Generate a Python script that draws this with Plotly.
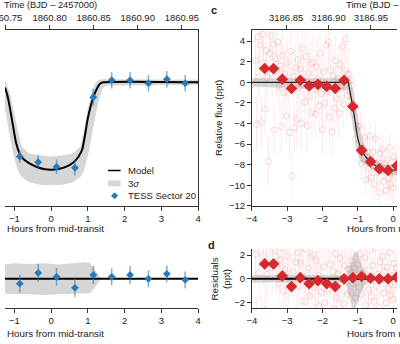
import plotly.graph_objects as go

W, H = 400, 344
def px(x): return x / W
def py(y): return 1 - y / H

FONT = "Liberation Sans, Arial, Helvetica, sans-serif"
TXT = "#222222"

# ---------------- Left panel (TESS Sector 20) ----------------
TESS_H = [-0.85, -0.35, 0.15, 0.65, 1.15, 1.65, 2.15, 2.65, 3.15, 3.65]
TESS_F = [-7.2, -7.75, -8.2, -8.3, -1.45, 0.2, 0.2, -0.1, 0.3, -0.1]
TESS_E = [0.6, 0.7, 0.7, 0.75, 0.8, 0.8, 0.8, 0.8, 0.8, 0.8]
TESS_R = [-0.4, 0.5, 0.17, -0.75, 0.33, 0.17, 0.33, 0.0, 0.42, -0.08]
TESS_RE = [0.75, 0.75, 0.75, 0.75, 0.75, 0.7, 0.75, 0.7, 0.7, 0.7]

MODEL_L_H = [-1.253, -1.2, -1.15, -1.07, -0.95, -0.87, -0.8, -0.6, -0.4, -0.2, 0.0,
             0.2, 0.4, 0.6, 0.75, 0.85, 0.93, 1.0, 1.08, 1.15, 1.25, 1.33, 1.42, 4.0]
MODEL_L_F = [-0.5, -1.1, -1.9, -3.5, -5.9, -6.8, -7.25, -7.85, -8.2, -8.42, -8.48,
             -8.42, -8.2, -7.8, -7.2, -6.5, -5.0, -3.5, -2.3, -1.45, -0.6, -0.15, 0.0, 0.0]

BAND_L_H = [-1.253, -1.2, -1.1, -1.0, -0.9, -0.8, -0.6, -0.3, 0.0, 0.3, 0.6, 0.8,
            0.9, 1.0, 1.1, 1.2, 1.3, 1.4, 1.5, 1.7, 4.0]
BAND_L_UP = [0.3, -0.2, -1.3, -3.0, -4.8, -6.2, -6.9, -7.1, -7.2, -7.1, -6.9, -6.2,
             -4.6, -2.6, -1.0, -0.1, 0.25, 0.3, 0.3, 0.25, 0.25]
BAND_L_LO = [-2.6, -3.8, -5.6, -7.4, -8.6, -9.2, -9.7, -9.95, -10.0, -9.95, -9.7, -9.2,
             -8.5, -7.2, -5.4, -3.4, -1.7, -0.6, -0.3, -0.25, -0.25]

RBAND_L_H = [-1.253, -1.0, -0.6, -0.2, 0.2, 0.6, 0.9, 1.05, 1.15, 1.23, 1.3, 1.36]
RBAND_L_UP = [1.2, 1.3, 1.25, 1.3, 1.2, 1.3, 1.4, 1.35, 1.0, 0.6, 0.25, 0.0]
RBAND_L_LO = [-1.25, -1.3, -1.3, -1.35, -1.3, -1.25, -1.2, -1.2, -0.9, -0.55, -0.25, 0.0]

# ---------------- Right panel (c / d) ----------------
PRE_H = [-3.90, -3.87, -3.83, -3.80, -3.77, -3.73, -3.70, -3.67, -3.63, -3.60,
         -3.57, -3.53, -3.50, -3.47, -3.43, -3.40, -3.37, -3.33, -3.30, -3.27,
         -3.23, -3.20, -3.17, -3.13, -3.10, -3.07, -3.03, -3.00, -2.97, -2.93,
         -2.90, -2.87, -2.83, -2.80, -2.77, -2.73, -2.70, -2.67, -2.63, -2.60,
         -2.57, -2.53, -2.50, -2.47, -2.43, -2.40, -2.37, -2.33, -2.30, -2.27,
         -2.23, -2.20, -2.17, -2.13, -2.10, -2.07, -2.03, -2.00, -1.97, -1.93,
         -1.90, -1.87, -1.83, -1.80, -1.77, -1.73, -1.70, -1.67, -1.63, -1.60,
         -1.57, -1.53, -1.50, -1.47, -1.43, -1.40, -1.37, -1.33, -1.30, -1.27]
PRE_F = [2.1, -4.1, 4.4, 0.5, 3.6, -3.9, 4.7, 1.9, -2.6, 3.1,
         0.4, -7.7, 2.8, 4.5, 0.9, 3.7, -4.6, 2.3, 1.2, 3.9,
         -0.4, 1.6, -4.3, 2.6, -1.0, 0.8, -3.3, 1.9, 0.1, -4.9,
         3.0, -9.1, 0.6, -4.4, 1.4, -3.6, 2.2, -0.6, 1.3, -4.0,
         3.3, 0.2, -1.9, 2.5, -4.2, 0.9, -1.4, 1.8, -2.9, 2.0,
         -0.7, -3.1, 1.5, 0.3, -2.3, 2.8, -1.1, -4.6, 1.0, -2.0,
         3.6, -0.9, 3.9, -3.4, 1.2, -4.8, 0.6, -2.5, 2.1, -1.6,
         0.4, -3.0, 1.7, -0.3, 3.5, -2.1, 1.1, 4.2, -1.3, 0.8]
PRE_E = 2.5

IN_H = [-1.23, -1.20, -1.17, -1.13, -1.10, -1.07, -1.03, -1.00, -0.97, -0.93,
        -0.90, -0.87, -0.83, -0.80, -0.77, -0.73, -0.70, -0.67, -0.63, -0.60,
        -0.57, -0.53, -0.50, -0.47, -0.43, -0.40, -0.37, -0.33, -0.30, -0.27,
        -0.23, -0.20, -0.17, -0.13, -0.10, -0.07, -0.03, 0.00, 0.03, 0.07, 0.10]
IN_F = [0.2, -2.3, -0.3, -3.0, -2.3, -5.5, -4.5, -4.25, -6.6, -4.2,
        -7.9, -6.35, -7.2, -5.35, -9.45, -6.7, -8.4, -5.2, -9.25, -7.62,
        -6.8, -9.9, -5.5, -8.75, -7.82, -10.68, -6.93, -8.47, -6.5, -9.63,
        -7.86, -10.5, -7.52, -9.33, -6.34, -9.95, -8.25, -10.25, -7.25, -9.03, -7.62]
IN_R = [0.8, -1.1, 1.5, -0.4, 0.9, -1.6, 0.3, 1.2, -0.7, 2.1,
        -1.3, 0.5, -0.2, 1.8, -2.2, 0.7, -0.9, 2.4, -1.5, 0.2,
        1.1, -1.9, 2.6, -0.6, 0.4, -2.4, 1.4, -0.1, 1.9, -1.2,
        0.6, -2.0, 1.0, -0.8, 2.2, -1.4, 0.3, -1.7, 1.3, -0.5, 0.9]
IN_E = 1.5

MODEL_R_H = [-4.0, -1.27, -1.22, -1.14, -1.05, -1.0, -0.93, -0.85, -0.77, -0.65,
             -0.5, -0.35, -0.2, 0.0, 0.111]
MODEL_R_F = [0.0, 0.0, -0.9, -2.35, -4.4, -5.45, -6.3, -6.9, -7.25, -7.7,
             -8.1, -8.35, -8.5, -8.55, -8.5]
BAND_R_UP = [0.4, 0.4, 0.3, -0.6, -2.5, -3.6, -4.8, -5.8, -6.5, -7.0,
             -7.5, -7.8, -7.95, -8.0, -7.95]
BAND_R_LO = [-0.4, -0.8, -2.3, -4.2, -6.2, -7.0, -7.6, -7.9, -8.0, -8.35,
             -8.65, -8.85, -8.95, -9.05, -9.0]

RBAND_R_H = [-4.0, -1.38, -1.3, -1.22, -1.15, -1.08, -1.0, -0.93, -0.86, -0.78, -0.7, 0.111]
RBAND_R_UP = [0.3, 0.3, 0.5, 1.1, 1.9, 2.3, 2.2, 1.6, 0.9, 0.5, 0.25, 0.25]
RBAND_R_LO = [-0.3, -0.3, -0.7, -1.6, -2.45, -2.45, -2.0, -1.3, -0.8, -0.45, -0.25, -0.25]

BIN_H = [-3.64, -3.39, -3.14, -2.88, -2.63, -2.38, -2.13, -1.88, -1.64, -1.39,
         -1.14, -0.89, -0.64, -0.39, -0.14, 0.11]
BIN_F = [1.34, 1.32, 0.3, -0.6, 0.2, -0.35, -0.2, -0.4, -0.6, 0.2,
         -2.35, -6.6, -7.7, -8.4, -8.55, -8.1]
BIN_R = [1.25, 1.25, 0.25, -0.65, 0.1, -0.4, -0.15, -0.4, -0.65, 0.0,
         0.1, 0.2, 0.05, 0.0, 0.0, 0.15]

RESID_MODEL = [0.0, 0.0]   # residual of the model is zero across each panel

T0_L = 1860.8017   # BJD-2457000 at mid-transit (left)
T0_R = 3186.97625  # BJD-2457000 at mid-transit (right)
TIME_TICKS_L = [1860.75, 1860.80, 1860.85, 1860.90, 1860.95]
TIME_TICKS_R = [3186.85, 3186.90, 3186.95]
HOUR_TICKS_L = [-1, 0, 1, 2, 3, 4]
HOUR_TICKS_R = [-4, -3, -2, -1, 0]
FLUX_TICKS = [4, 2, 0, -2, -4, -6, -8, -10, -12]
RES_TICKS = [2, 0, -2]

XL = [-1.253, 4.0]
XR = [-4.0, 0.111]
YTOP = [-12, 5.05]
YRES = [-2.44, 2.52]

BLUE = "#2a7ab9"
BLUE_ERR = "rgba(42,122,185,0.6)"
RED = "#d7282b"
PINK_EDGE = "rgba(228,110,110,0.26)"
PINK_ERR = "rgba(235,130,130,0.17)"

fig = go.Figure()

def band(h, up, lo, xa, ya, color):
    fig.add_trace(go.Scatter(x=list(h) + list(h)[::-1], y=list(up) + list(lo)[::-1],
                             fill="toself", fillcolor=color, line=dict(width=0),
                             mode="lines", xaxis=xa, yaxis=ya, showlegend=False,
                             hoverinfo="skip"))

# Left top panel
band(BAND_L_H, BAND_L_UP, BAND_L_LO, "x", "y", "rgba(200,200,200,0.75)")
fig.add_trace(go.Scatter(x=MODEL_L_H, y=MODEL_L_F, mode="lines",
                         line=dict(color="black", width=2, shape="spline", smoothing=0.5),
                         xaxis="x", yaxis="y", showlegend=False))
fig.add_trace(go.Scatter(x=TESS_H, y=TESS_F, mode="markers",
                         marker=dict(symbol="diamond", size=6, color=BLUE),
                         error_y=dict(type="data", array=TESS_E, color=BLUE_ERR,
                                      thickness=1.5, width=0),
                         xaxis="x", yaxis="y", showlegend=False))
fig.add_trace(go.Scatter(x=[], y=[], xaxis="x2", yaxis="y", showlegend=False))

# Left residual panel
band(RBAND_L_H, RBAND_L_UP, RBAND_L_LO, "x5", "y5", "rgba(200,200,200,0.75)")
fig.add_trace(go.Scatter(x=XL, y=RESID_MODEL, mode="lines",
                         line=dict(color="black", width=2),
                         xaxis="x5", yaxis="y5", showlegend=False))
fig.add_trace(go.Scatter(x=TESS_H, y=TESS_R, mode="markers",
                         marker=dict(symbol="diamond", size=6, color=BLUE),
                         error_y=dict(type="data", array=TESS_RE, color=BLUE_ERR,
                                      thickness=1.5, width=0),
                         xaxis="x5", yaxis="y5", showlegend=False))

# Right top panel (c)
for hh, ff, ee in [(PRE_H, PRE_F, PRE_E), (IN_H, IN_F, IN_E)]:
    fig.add_trace(go.Scatter(x=hh, y=ff, mode="markers",
                             marker=dict(symbol="circle-open", size=6, color=PINK_EDGE,
                                         line=dict(width=1)),
                             error_y=dict(type="constant", value=ee, color=PINK_ERR,
                                          thickness=1, width=0),
                             xaxis="x3", yaxis="y3", showlegend=False))
band(MODEL_R_H, BAND_R_UP, BAND_R_LO, "x3", "y3", "rgba(140,140,140,0.35)")
fig.add_trace(go.Scatter(x=MODEL_R_H, y=MODEL_R_F, mode="lines",
                         line=dict(color="#222", width=1.2),
                         xaxis="x3", yaxis="y3", showlegend=False))
fig.add_trace(go.Scatter(x=BIN_H, y=BIN_F, mode="markers",
                         marker=dict(symbol="diamond", size=9, color=RED),
                         xaxis="x3", yaxis="y3", showlegend=False))
fig.add_trace(go.Scatter(x=[], y=[], xaxis="x4", yaxis="y3", showlegend=False))

# Right residual panel (d)
for hh, rr, ee in [(PRE_H, PRE_F, PRE_E), (IN_H, IN_R, IN_E)]:
    fig.add_trace(go.Scatter(x=hh, y=rr, mode="markers",
                             marker=dict(symbol="circle-open", size=6, color=PINK_EDGE,
                                         line=dict(width=1)),
                             error_y=dict(type="constant", value=ee, color=PINK_ERR,
                                          thickness=1, width=0),
                             xaxis="x6", yaxis="y6", showlegend=False))
band(RBAND_R_H, RBAND_R_UP, RBAND_R_LO, "x6", "y6", "rgba(140,140,140,0.35)")
fig.add_trace(go.Scatter(x=XR, y=RESID_MODEL, mode="lines",
                         line=dict(color="black", width=2),
                         xaxis="x6", yaxis="y6", showlegend=False))
fig.add_trace(go.Scatter(x=BIN_H, y=BIN_R, mode="markers",
                         marker=dict(symbol="diamond", size=9, color=RED),
                         xaxis="x6", yaxis="y6", showlegend=False))

ax = dict(showgrid=False, zeroline=False, linecolor="#333", linewidth=1,
          ticks="outside", ticklen=4, tickwidth=1, tickcolor="#333",
          tickfont=dict(size=9.5, color=TXT, family=FONT), showline=True)

DOM_L = [0, px(197)]
DOM_R = [px(252), 1]
DOM_TOP = [py(209), py(30.7)]
DOM_BOT = [py(312.5), py(252.5)]

fig.update_layout(
    width=W, height=H, margin=dict(l=0, r=0, t=0, b=0),
    paper_bgcolor="white", plot_bgcolor="rgba(0,0,0,0)",
    font=dict(family=FONT, size=9.5, color=TXT),
    xaxis=dict(ax, domain=DOM_L, anchor="y", range=XL, tickvals=HOUR_TICKS_L),
    yaxis=dict(ax, domain=DOM_TOP, anchor="x", range=YTOP, side="right",
               ticks="", showticklabels=False),
    xaxis2=dict(ax, overlaying="x", anchor="y", side="top",
                range=[T0_L + XL[0] / 24, T0_L + XL[1] / 24],
                tickvals=TIME_TICKS_L, tickformat=".2f"),
    xaxis3=dict(ax, domain=DOM_R, anchor="y3", range=XR, tickvals=HOUR_TICKS_R),
    yaxis3=dict(ax, domain=DOM_TOP, anchor="x3", range=YTOP, tickvals=FLUX_TICKS),
    xaxis4=dict(ax, overlaying="x3", anchor="y3", side="top",
                range=[T0_R + XR[0] / 24, T0_R + XR[1] / 24],
                tickvals=TIME_TICKS_R, tickformat=".2f"),
    xaxis5=dict(ax, domain=DOM_L, anchor="y5", range=XL, tickvals=HOUR_TICKS_L),
    yaxis5=dict(ax, domain=DOM_BOT, anchor="x5", range=YRES, showline=False,
                ticks="", showticklabels=False),
    xaxis6=dict(ax, domain=DOM_R, anchor="y6", range=XR, tickvals=HOUR_TICKS_R),
    yaxis6=dict(ax, domain=DOM_BOT, anchor="x6", range=YRES, tickvals=RES_TICKS),
    showlegend=False,
)

def ann(text, x, y, xanchor="center", size=9.5, angle=0, bold=False, color=TXT):
    fig.add_annotation(text=("<b>%s</b>" % text) if bold else text,
                       x=px(x), y=py(y), xref="paper", yref="paper",
                       xanchor=xanchor, yanchor="middle", showarrow=False,
                       textangle=angle, font=dict(size=size, color=color, family=FONT))

# first top tick label of the left panel (partly outside the page), placed on the time axis
fig.add_annotation(text="%.2f" % TIME_TICKS_L[0], x=TIME_TICKS_L[0], xref="x2",
                   y=py(18), yref="paper", xanchor="center", yanchor="middle",
                   showarrow=False, font=dict(size=9.5, color=TXT, family=FONT))

ann("Time (BJD \u2013 2457000)", -3, 5, xanchor="left", size=9.3)
ann("Time (BJD \u2013 2457000)", 346, 5, xanchor="left", size=9.5)
ann("Hours from mid-transit", 0, 232, xanchor="left", size=9.8)
ann("Hours from mid-transit", 0, 338, xanchor="left", size=9.8)
ann("Hours from mid-transit", 347, 232, xanchor="left", size=9.8)
ann("Hours from mid-transit", 347, 338, xanchor="left", size=9.8)
ann("Relative flux (ppt)", 218, 120, size=9.8, angle=-90)
ann("Residuals<br>(ppt)", 220, 283, size=9.8, angle=-90)
ann("c", 213, 10, size=11, bold=True)
ann("d", 211, 249, size=11, bold=True)

# Legend (left panel)
fig.add_shape(type="line", xref="paper", yref="paper", x0=px(105), x1=px(118),
              y0=py(173), y1=py(173), line=dict(color="black", width=1.5))
fig.add_shape(type="rect", xref="paper", yref="paper", x0=px(105), x1=px(118),
              y0=py(189), y1=py(183), line=dict(width=0), fillcolor="#d6d6d6")
ann("\u25c6", 111.5, 198, size=9, color=BLUE)
ann("Model", 123, 173, xanchor="left")
ann("3<i>\u03c3</i>", 123, 186, xanchor="left")
ann("TESS Sector 20", 123, 198, xanchor="left")

fig.write_html("out.html")
